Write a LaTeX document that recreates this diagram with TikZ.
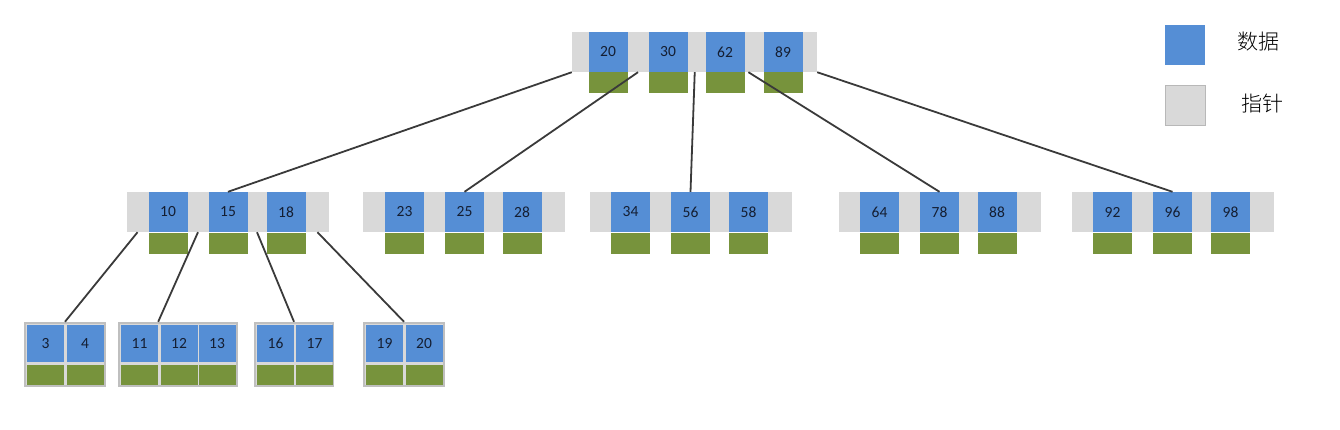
\documentclass[tikz,border=0pt]{standalone}
\usepackage{fontspec}
\setmainfont{Carlito}
\newfontfamily\cjk{Noto Sans CJK SC Light}
\usetikzlibrary{calc}
\definecolor{datblue}{HTML}{558ED5}
\definecolor{ptrgray}{HTML}{D9D9D9}
\definecolor{chdgreen}{HTML}{77933C}
\definecolor{leafgray}{HTML}{BFBFBF}
\definecolor{numcol}{HTML}{141E32}
\definecolor{linecol}{HTML}{3A3A3A}

\begin{document}
\begin{tikzpicture}[x = 1pt, y = -1pt,
	dat/.style = {fill = datblue, inner sep = 0pt, minimum width = 39pt, minimum height = 40pt, text = numcol, font = \fontsize{15.5}{15.5}\selectfont},
	chd/.style = {fill = chdgreen, inner sep = 0pt, minimum width = 39pt, minimum height = 21pt},
	ptr/.style = {fill = ptrgray, inner sep = 0pt, minimum width = 202pt, minimum height = 40pt},
	leaf/.style = {fill = ptrgray, draw = leafgray, line width = 2.5pt, inner sep = 0pt, minimum height = 63pt},
	ldat/.style = {dat, minimum width = 37pt, minimum height = 37pt},
	lchd/.style = {chd, minimum width = 37pt, minimum height = 20pt},
	link/.style = {draw = linecol, line width = 1.8pt}]
		\useasboundingbox (0, 0) rectangle (1340, 429);
		%%%%%%%%%%%%% root
		\node [ptr, minimum width = 245pt] (root) at (694.5, 52) {};
		\node [dat] (r20) at (608, 52) {20}; \node [chd] at (608, 82.5) {};
		\node [dat] (r30) at (668, 52) {30}; \node [chd] at (668, 82.5) {};
		\node [dat] (r62) at (725, 52) {62}; \node [chd] at (725, 82.5) {};
		\node [dat] (r89) at (783, 52) {89}; \node [chd] at (783, 82.5) {};
		%%%%%%%%%%%%% second level
		\node [ptr] (a) at (228, 212) {};
		\node [dat] (n10) at (168, 212) {10}; \node [chd] at (168, 243) {};
		\node [dat] (n15) at (228, 212) {15}; \node [chd] at (228, 243) {};
		\node [dat] (n18) at (286, 212) {18}; \node [chd] at (286, 243) {};
		\node [ptr] (b) at (463.5, 212) {};
		\node [dat] (n23) at (404.5, 212) {23}; \node [chd] at (404.5, 243) {};
		\node [dat] (n25) at (464.5, 212) {25}; \node [chd] at (464.5, 243) {};
		\node [dat] (n28) at (522, 212) {28}; \node [chd] at (522, 243) {};
		\node [ptr] (c) at (690.5, 212) {};
		\node [dat] (n34) at (630.5, 212) {34}; \node [chd] at (630.5, 243) {};
		\node [dat] (n56) at (690.5, 212) {56}; \node [chd] at (690.5, 243) {};
		\node [dat] (n58) at (748.5, 212) {58}; \node [chd] at (748.5, 243) {};
		\node [ptr] (d) at (939.5, 212) {};
		\node [dat] (n64) at (879.5, 212) {64}; \node [chd] at (879.5, 243) {};
		\node [dat] (n78) at (939.5, 212) {78}; \node [chd] at (939.5, 243) {};
		\node [dat] (n88) at (997, 212) {88}; \node [chd] at (997, 243) {};
		\node [ptr] (e) at (1172.5, 212) {};
		\node [dat] (n92) at (1112.5, 212) {92}; \node [chd] at (1112.5, 243) {};
		\node [dat] (n96) at (1172.5, 212) {96}; \node [chd] at (1172.5, 243) {};
		\node [dat] (n98) at (1230.5, 212) {98}; \node [chd] at (1230.5, 243) {};
		%%%%%%%%%%%%% leaves
		\node [leaf, minimum width = 80pt] (la) at (65, 354.5) {};
		\node [ldat] (l3) at (45.5, 343.5) {3}; \node [lchd] at (45.5, 375) {};
		\node [ldat] (l4) at (85, 343.5) {4}; \node [lchd] at (85, 375) {};
		\node [leaf, minimum width = 118pt] (lb) at (178, 354.5) {};
		\node [ldat] (l11) at (139.5, 343.5) {11}; \node [lchd] at (139.5, 375) {};
		\node [ldat] (l12) at (179, 343.5) {12}; \node [lchd] at (179, 375) {};
		\node [ldat] (l13) at (217, 343.5) {13}; \node [lchd] at (217, 375) {};
		\node [leaf, minimum width = 78pt] (lc) at (294, 354.5) {};
		\node [ldat] (l16) at (275.5, 343.5) {16}; \node [lchd] at (275.5, 375) {};
		\node [ldat] (l17) at (314.5, 343.5) {17}; \node [lchd] at (314.5, 375) {};
		\node [leaf, minimum width = 80pt] (ld) at (404, 354.5) {};
		\node [ldat] (l19) at (384.5, 343.5) {19}; \node [lchd] at (384.5, 375) {};
		\node [ldat] (l20) at (424, 343.5) {20}; \node [lchd] at (424, 375) {};
		%%%%%%%%%%%%% legend
		\node [dat, minimum width = 40pt] (kdat) at (1185, 45) {};
		\node [ptr, draw = ptrgray!85!black, minimum width = 40pt] (kptr) at (1185, 105.5) {};
		\node (kdattext) at (1258, 42) {\cjk\fontsize{21}{21}\selectfont 数据};
		\node (kptrtext) at (1262, 104) {\cjk\fontsize{21}{21}\selectfont 指针};
		%%%%%%%%%%%%% links
		\draw [link] (root.south west) to (n15.north);
		\draw [link] ($(r20.south east)!0.5!(r30.south west)$) to (n25.north);
		\draw [link] ($(r30.south east)!0.4!(r62.south west)$) to (n56.north);
		\draw [link] ($(r62.south east)!0.2!(r89.south west)$) to (n78.north);
		\draw [link] (root.south east) to (n96.north);
		\draw [link] ($(a.south west)!0.5!(n10.south west)$) to (la.north);
		\draw [link] ($(n10.south east)!0.5!(n15.south west)$) to (l11.north east |- lb.north);
		\draw [link] ($(n15.south east)!0.5!(n18.south west)$) to (lc.north);
		\draw [link] ($(n18.south east)!0.5!(a.south east)$) to (ld.north);
\end{tikzpicture}
\end{document}
